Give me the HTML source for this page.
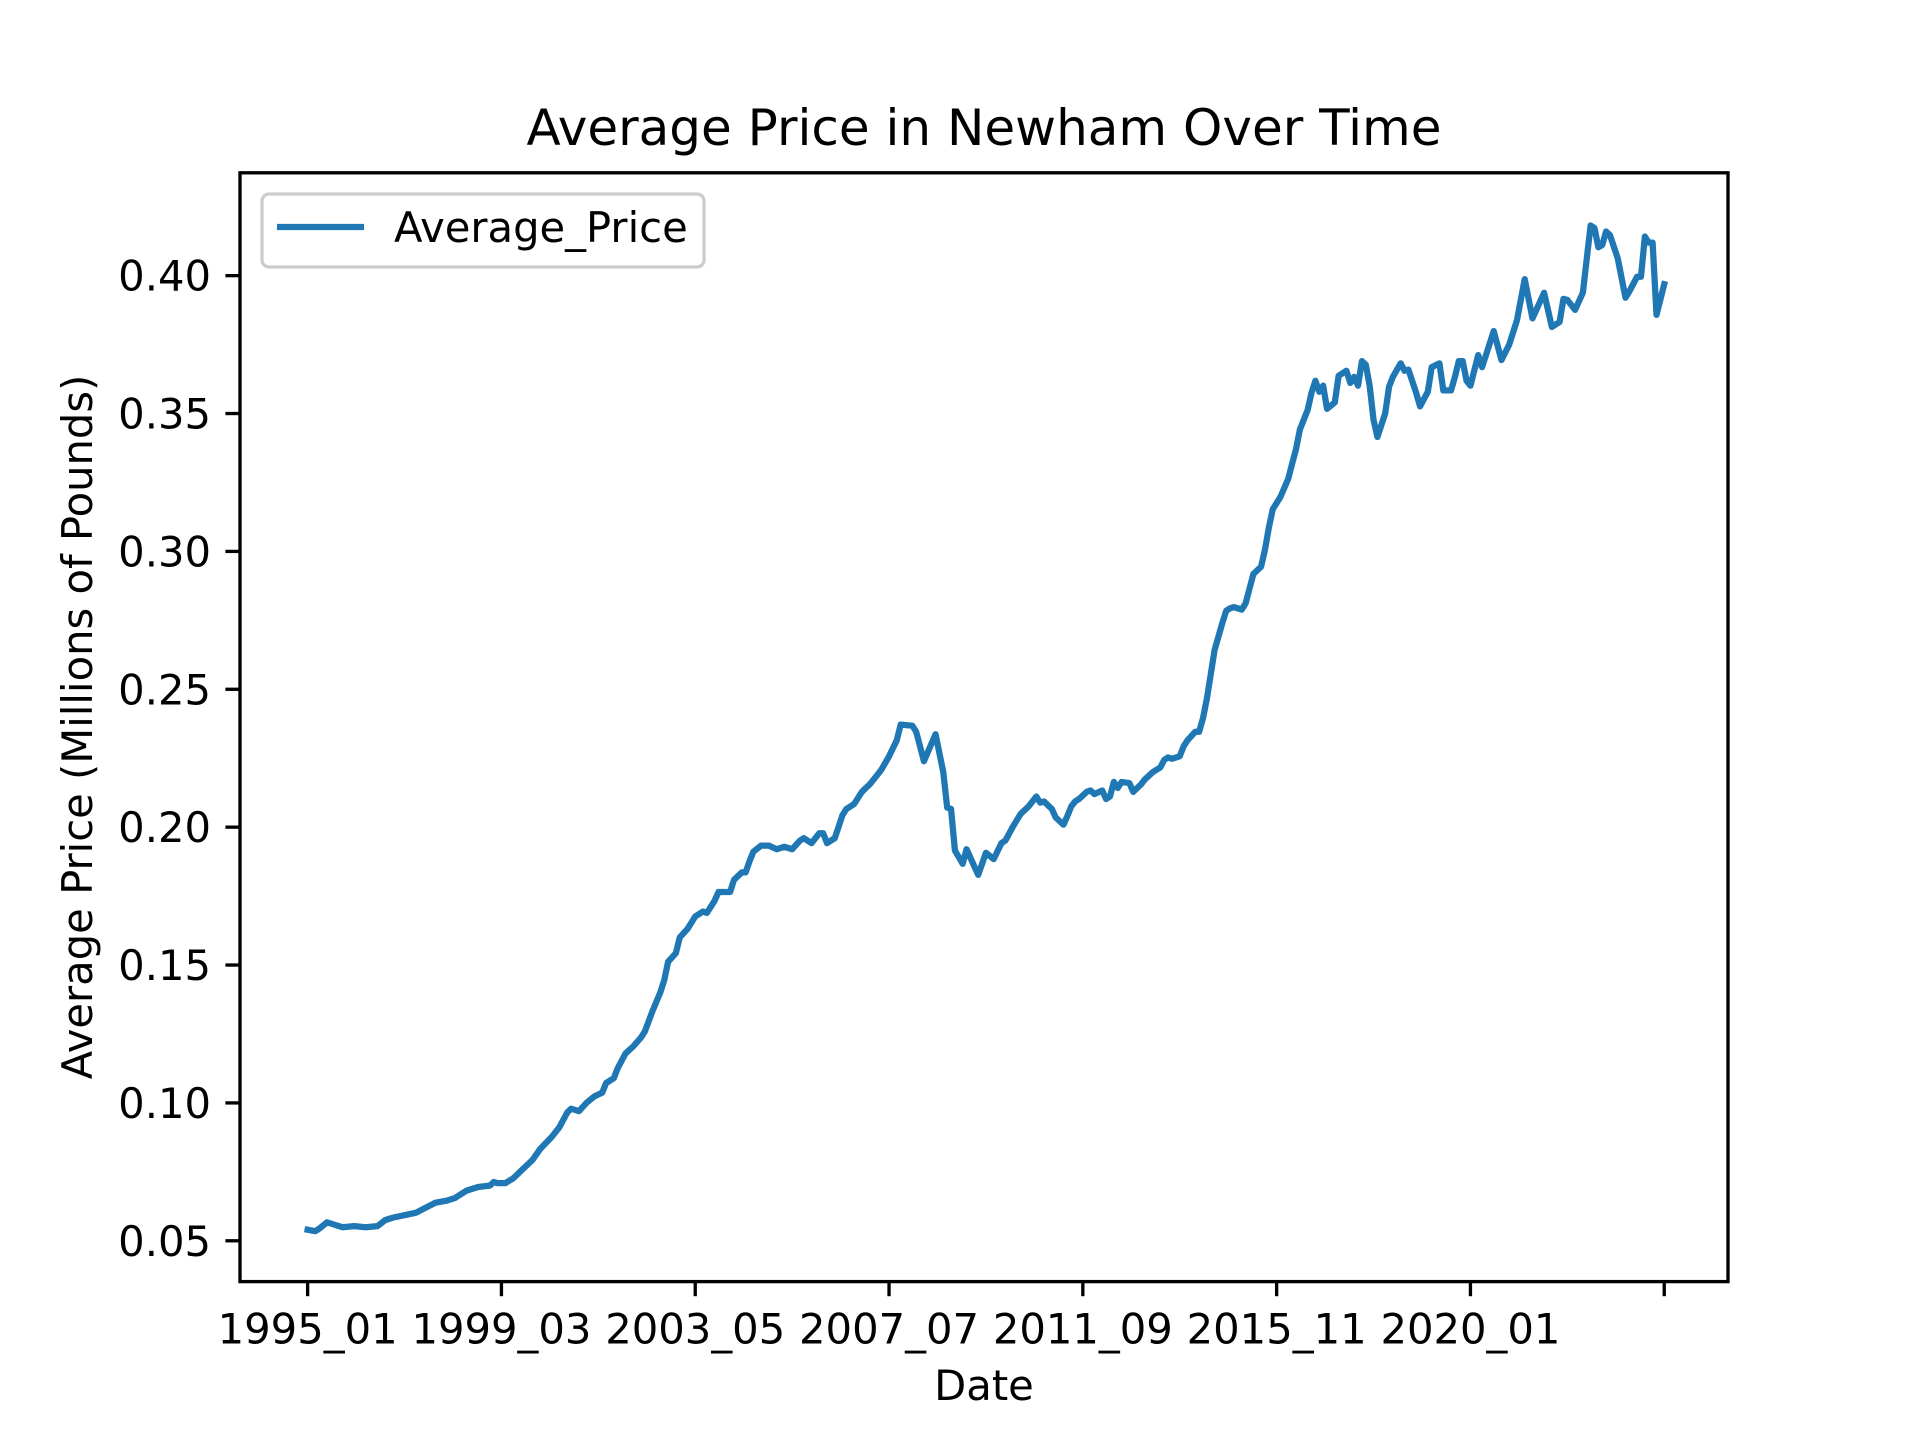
<!DOCTYPE html>
<html><head><meta charset="utf-8"><style>
html,body{margin:0;padding:0;background:#fff;}
svg{display:block;font-family:"DejaVu Sans","Liberation Sans",sans-serif;}
</style></head><body>
<svg id="chart" width="1920" height="1440" viewBox="0 0 1920 1440" xmlns="http://www.w3.org/2000/svg">
<rect width="1920" height="1440" fill="#fff"/>
<text x="984" y="145" font-size="50" text-anchor="middle">Average Price in Newham Over Time</text>
<text x="984" y="1400" font-size="41.7" text-anchor="middle">Date</text>
<text transform="translate(92,727) rotate(-90)" font-size="41.7" text-anchor="middle">Average Price (Millions of Pounds)</text>
<g id="plot"></g>
</svg>
<script>
const monthIndex = [0,2,3,5,7,9,12,15,18,20,22,25,28,31,33,36,38,41,44,47,48,49,51,53,55,58,60,63,65,67,68,70,72,74,76,77,79,80,82,84,86,87,89,91,92,93,95,96,98,100,102,103,105,106,107,109,110,112,113,114,115,117,119,121,123,125,127,128,130,132,133,134,136,138,139,141,143,144,145,147,148,150,152,153,156,157,159,162,164,165,166,167,169,170,173,175,177,179,180,182,184,186,188,189,190,192,193,195,196,197,198,199,201,202,203,205,206,207,208,209,210,212,213,215,216,218,220,221,222,223,225,226,227,229,230,231,232,233,234,236,237,238,239,241,242,243,244,246,247,248,249,251,253,254,255,256,258,259,260,261,262,263,265,266,268,269,270,271,272,273,274,275,276,278,279,280,282,283,284,286,287,289,290,292,293,295,296,297,298,299,300,302,303,306,308,310,312,314,316,319,321,323,324,325,327,329,331,332,333,334,335,336,338,340,341,343,344,345,346,347,348,350];
const avgPrice = [0.0540,0.0535,0.0544,0.0567,0.0558,0.0549,0.0553,0.0549,0.0553,0.0575,0.0584,0.0593,0.0602,0.0624,0.0638,0.0646,0.0655,0.0682,0.0695,0.0700,0.0713,0.0709,0.0709,0.0726,0.0753,0.0793,0.0833,0.0877,0.0913,0.0966,0.0979,0.0970,0.1001,0.1024,0.1037,0.1072,0.1090,0.1126,0.1179,0.1205,0.1237,0.1259,0.1334,0.1401,0.1445,0.1512,0.1543,0.1600,0.1631,0.1676,0.1694,0.1689,0.1733,0.1765,0.1765,0.1765,0.1809,0.1836,0.1836,0.1876,0.1911,0.1933,0.1933,0.1920,0.1929,0.1920,0.1951,0.1960,0.1942,0.1978,0.1978,0.1942,0.1960,0.2044,0.2066,0.2084,0.2128,0.2142,0.2155,0.2190,0.2208,0.2257,0.2315,0.2372,0.2368,0.2346,0.2239,0.2337,0.2199,0.2071,0.2066,0.1915,0.1867,0.1920,0.1827,0.1907,0.1884,0.1942,0.1951,0.2003,0.2049,0.2075,0.2111,0.2089,0.2093,0.2066,0.2035,0.2009,0.2040,0.2075,0.2093,0.2102,0.2128,0.2133,0.2120,0.2133,0.2102,0.2111,0.2164,0.2142,0.2164,0.2160,0.2128,0.2155,0.2173,0.2199,0.2217,0.2244,0.2253,0.2248,0.2257,0.2293,0.2315,0.2346,0.2346,0.2395,0.2466,0.2554,0.2643,0.2741,0.2785,0.2794,0.2798,0.2789,0.2812,0.2865,0.2918,0.2945,0.3007,0.3087,0.3153,0.3198,0.3264,0.3318,0.3371,0.3442,0.3513,0.3575,0.3619,0.3579,0.3601,0.3517,0.3540,0.3637,0.3655,0.3611,0.3633,0.3601,0.3690,0.3677,0.3601,0.3477,0.3415,0.3500,0.3597,0.3633,0.3682,0.3655,0.3659,0.3575,0.3526,0.3579,0.3668,0.3682,0.3584,0.3584,0.3633,0.3690,0.3690,0.3619,0.3601,0.3712,0.3668,0.3799,0.3694,0.3750,0.3838,0.3987,0.3845,0.3938,0.3814,0.3832,0.3916,0.3912,0.3876,0.3938,0.4182,0.4173,0.4103,0.4111,0.4160,0.4147,0.4063,0.3920,0.3943,0.3996,0.3996,0.4142,0.4120,0.4120,0.3858,0.3969];
const xTickIndex = [0,50,100,150,200,250,300,350];
const xTickLabels = ["1995_01","1999_03","2003_05","2007_07","2011_09","2015_11","2020_01",""];
const yTicks = [0.05,0.10,0.15,0.20,0.25,0.30,0.35,0.40];
const yTickLabels = ["0.05","0.10","0.15","0.20","0.25","0.30","0.35","0.40"];

const NS="http://www.w3.org/2000/svg";
const L=240,R=1728,T=172.8,B=1281.6;
const M=349, xMin=-0.05*M, xMax=1.05*M;
const yMin=0.0352, yMax=0.4373;
function sx(v){return L+(v-xMin)/(xMax-xMin)*(R-L);}
function sy(v){return B-(v-yMin)/(yMax-yMin)*(B-T);}
const g=document.getElementById('plot');
function mk(tag,attrs){const e=document.createElementNS(NS,tag);for(const k in attrs)e.setAttribute(k,attrs[k]);g.appendChild(e);return e;}

let d='';
monthIndex.forEach((m,i)=>{d+=(i?'L':'M')+sx(m).toFixed(2)+' '+sy(avgPrice[i]).toFixed(2);});
const line=mk('path',{d:d,fill:'none',stroke:'#1f77b4','stroke-width':6.25,'stroke-linejoin':'round','stroke-linecap':'square'});



const frame=mk('rect',{x:L,y:T,width:R-L,height:B-T,fill:'none',stroke:'#000','stroke-width':3.33});



xTickIndex.forEach((m,i)=>{
  const x=sx(m);
  const t=mk('line',{x1:x,x2:x,y1:B,y2:B+14.6,stroke:'#000','stroke-width':3.33});
  
  
  if(xTickLabels[i]){
    const tx=mk('text',{x:x,y:B+62,'font-size':41.7,'text-anchor':'middle'});
    tx.textContent=xTickLabels[i];
    
    
  }
});
yTicks.forEach((v,i)=>{
  const y=sy(v);
  const t=mk('line',{x1:L-14.6,x2:L,y1:y,y2:y,stroke:'#000','stroke-width':3.33});
  
  
  const tx=mk('text',{x:L-29,y:y+15,'font-size':41.7,'text-anchor':'end'});
  tx.textContent=yTickLabels[i];
  
  
});

const lg=mk('rect',{x:262,y:194,width:442,height:73,rx:7,fill:'#fff','fill-opacity':0.8,stroke:'#ccc','stroke-width':3.33});


const ll=mk('line',{x1:277,x2:364,y1:227,y2:227,stroke:'#1f77b4','stroke-width':6.25});


const lt=mk('text',{x:394,y:242,'font-size':41.7});
lt.textContent='Average_Price';


</script>
</body></html>
